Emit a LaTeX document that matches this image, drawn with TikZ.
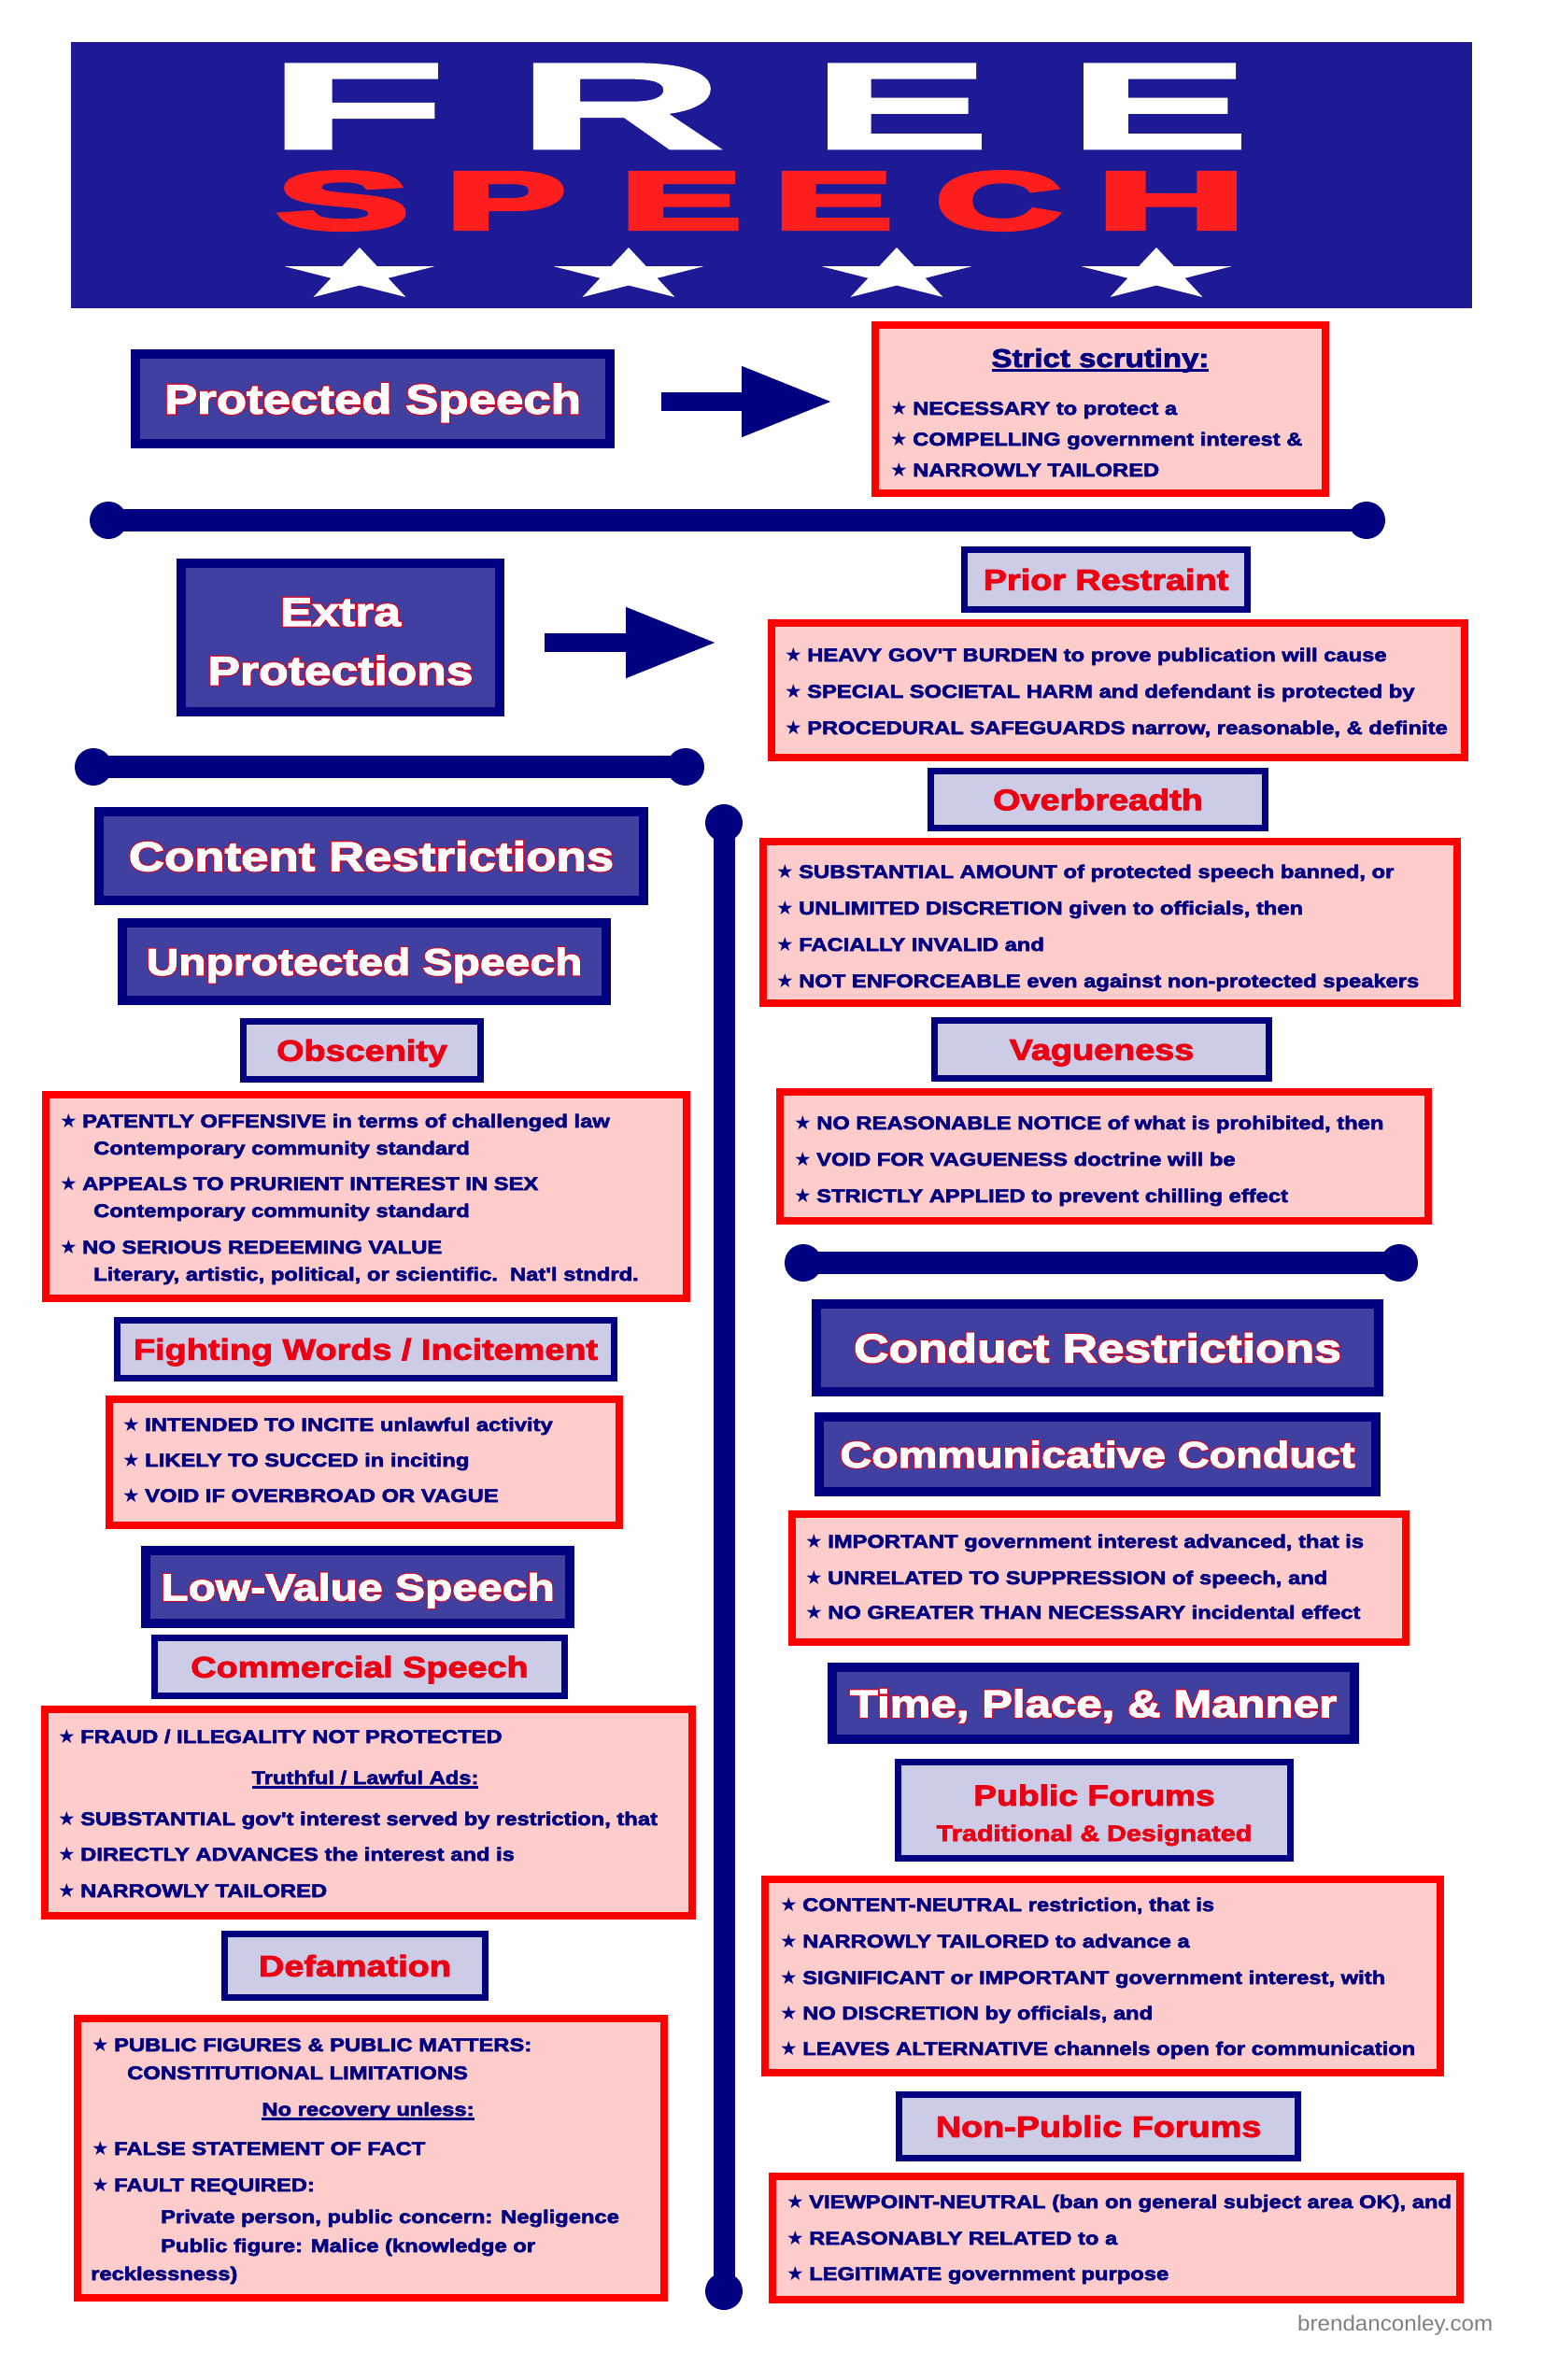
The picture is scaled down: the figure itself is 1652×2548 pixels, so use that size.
\documentclass[tikz,border=0pt]{standalone}
\usepackage{fontspec}
\usepackage{graphicx}
\usetikzlibrary{arrows.meta,calc}
\newfontfamily\fb{Liberation Sans Bold}[FakeStretch=1.2,FakeBold=3]
\newfontfamily\fbo{Liberation Sans Bold}[FakeStretch=1.2,FakeBold=8]
\newfontfamily\fh{Liberation Sans Bold}[FakeBold=2]
\newfontfamily\fhh{Liberation Sans Bold}[FakeBold=5]
\newfontfamily\fr{Liberation Sans}[FakeStretch=1.05]
\newfontfamily\symf{DejaVu Sans}[Scale=1.05]
\definecolor{navy}{RGB}{0,0,128}
\definecolor{midblue}{RGB}{64,64,160}
\definecolor{lav}{RGB}{204,204,230}
\definecolor{pinkf}{RGB}{255,204,204}
\definecolor{bred}{RGB}{255,0,0}
\definecolor{tred}{RGB}{235,0,20}
\definecolor{outred}{RGB}{220,0,30}
\definecolor{banner}{RGB}{30,26,150}
\definecolor{sred}{RGB}{255,30,30}
\definecolor{webgray}{RGB}{128,128,128}
\newcommand\st{\makebox[24pt][l]{\symf\symbol{"2605}}}
\newsavebox\ulbox
\newcommand\ulx[1]{\sbox\ulbox{#1}\rlap{\rule[-4.5pt]{\wd\ulbox}{2.2pt}}\usebox\ulbox}
\newcommand\ot[1]{\makebox[0pt][l]{\textcolor{outred}{\fbo #1}}#1}
\newcommand\tl[4]{\node[bodytxt] (#1) at (#2,#3) {#4};}
\newcommand\biglet[3]{\fontsize{#1}{#1}\selectfont\fh\scalebox{#2}[1]{#3}}
\newcommand\bigred[3]{\fontsize{#1}{#1}\selectfont\fhh\scalebox{#2}[1]{#3}}
\begin{document}
\begin{tikzpicture}[x=1pt,y=-1pt,
  darkbox/.style={draw=navy,line width=10pt,fill=midblue,text=white,inner sep=0pt,text depth=0pt},
  lavbox/.style={draw=navy,line width=7pt,fill=lav,text=tred,inner sep=0pt,text depth=0pt,
     font=\fontsize{31.5}{32}\selectfont\fb,text height=22.5pt},
  redbox/.style={draw=bred,line width=8pt,fill=pinkf,inner sep=0pt},
  bodytxt/.style={text=navy,inner sep=0pt,anchor=base west,font=\fontsize{19.8}{22}\selectfont\fb},
  wtitle/.style={text=white,inner sep=0pt,anchor=base},
  bigletter/.style={inner sep=0pt,anchor=base},
  bigarr/.style={draw=navy,line width=20pt,-{Triangle[length=98pt,width=70pt]}},
  bar/.style={draw=navy,line width=24pt},
  endcap/.style={fill=navy}]
\useasboundingbox (0,0) rectangle (1652,2548);
\fill[white] (0,0) rectangle (1652,2548);

% ---------- banner ----------
\node[fill=banner,inner sep=0pt,minimum width=1500pt,minimum height=285pt] (banner) at (826,187.5) {};
\node[bigletter,text=white] (lF) at (382,159) {\biglet{131.3}{2.37}{F}};
\node[bigletter,text=white] (lR) at (664,159) {\biglet{131.3}{2.33}{R}};
\node[bigletter,text=white] (lE1) at (964.5,159) {\biglet{131.3}{2.16}{E}};
\node[bigletter,text=white] (lE2) at (1240.5,159) {\biglet{131.3}{2.21}{E}};
\node[bigletter,text=sred] (lS) at (367,245) {\bigred{87}{2.43}{S}};
\node[bigletter,text=sred] (lP) at (541.5,245) {\bigred{87}{2.2}{P}};
\node[bigletter,text=sred] (lE3) at (729,245) {\bigred{87}{2.22}{E}};
\node[bigletter,text=sred] (lE4) at (892,245) {\bigred{87}{2.17}{E}};
\node[bigletter,text=sred] (lC) at (1069,245) {\bigred{87}{2.13}{C}};
\node[bigletter,text=sred] (lH) at (1254,245) {\bigred{87}{2.52}{H}};
\foreach \cx in {385,673,960,1238}{
  \fill[white,shift={(\cx,294.3)},xscale=2.87] (-90:29.3) -- (-54:11.2) -- (-18:29.3) -- (18:11.2) -- (54:29.3)
     -- (90:11.2) -- (126:29.3) -- (162:11.2) -- (198:29.3) -- (234:11.2) -- cycle;}

% ---------- protected speech ----------
\node[darkbox,minimum width=508pt,minimum height=96pt,font=\fontsize{44}{44}\selectfont\fb,text height=31.5pt] (ps) at (399,427) {\ot{Protected Speech}};
\node[redbox,minimum width=482pt,minimum height=180pt] (ss) at (1178,438) {};
\node[text=navy,inner sep=0pt,anchor=base,font=\fontsize{27.5}{28}\selectfont\fb] (sst) at (1178,393) {\ulx{Strict scrutiny:}};
\tl{ss1}{953}{444}{\st NECESSARY to protect a}
\tl{ss2}{953}{477}{\st COMPELLING government interest \&}
\tl{ss3}{953}{510}{\st NARROWLY TAILORED}
\coordinate (a1s) at ($(ps.east)+(50,3)$);
\coordinate (a1e) at ($(ss.west)+(-41,-8)$);
\draw[bigarr] (a1s) -- (a1e);

% ---------- bar 1 ----------
\coordinate (b1l) at (116,557);
\coordinate (b1r) at (1463,557);
\draw[bar] (b1l) -- (b1r);
\fill[endcap] (b1l) circle (20pt);
\fill[endcap] (b1r) circle (20pt);

% ---------- extra protections ----------
\node[darkbox,minimum width=341pt,minimum height=159pt] (ep) at (364.5,682.5) {};
\node[wtitle,font=\fontsize{43}{43}\selectfont\fb] (ep1) at (364.5,670) {\ot{Extra}};
\node[wtitle,font=\fontsize{43}{43}\selectfont\fb] (ep2) at (364.5,733) {\ot{Protections}};
\node[lavbox,minimum width=303pt,minimum height=64pt] (prt) at (1184,620.5) {Prior Restraint};
\node[redbox,minimum width=742pt,minimum height=144pt] (prc) at (1197,739) {};
\tl{pr1}{840}{708}{\st HEAVY GOV'T BURDEN to prove publication will cause}
\tl{pr2}{840}{747}{\st SPECIAL SOCIETAL HARM and defendant is protected by}
\tl{pr3}{840}{786}{\st PROCEDURAL SAFEGUARDS narrow, reasonable, \& definite}
\coordinate (a2s) at ($(ep.east)+(43,5.5)$);
\coordinate (a2e) at ($(prc.west)+(-54,-51)$);
\draw[bigarr] (a2s) -- (a2e);

% ---------- bar 2 and vertical bar ----------
\coordinate (b2l) at (100,821);
\coordinate (b2r) at (734,821);
\draw[bar] (b2l) -- (b2r);
\fill[endcap] (b2l) circle (20pt);
\fill[endcap] (b2r) circle (20pt);
\coordinate (vt) at (775,881);
\coordinate (vb) at (775,2453);
\draw[bar,line width=23pt] (vt) -- (vb);
\fill[endcap] (vt) circle (20pt);
\fill[endcap] (vb) circle (20pt);

% ---------- right column: overbreadth, vagueness ----------
\node[lavbox,minimum width=358pt,minimum height=61pt] (obt) at (1175.5,856) {Overbreadth};
\node[redbox,minimum width=743pt,minimum height=173pt] (obc) at (1188.5,987.5) {};
\tl{ob1}{831}{940}{\st SUBSTANTIAL AMOUNT of protected speech banned, or}
\tl{ob2}{831}{979}{\st UNLIMITED DISCRETION given to officials, then}
\tl{ob3}{831}{1018}{\st FACIALLY INVALID and}
\tl{ob4}{831}{1057}{\st NOT ENFORCEABLE even against non-protected speakers}
\node[lavbox,minimum width=358pt,minimum height=62pt] (vgt) at (1179.5,1123.5) {Vagueness};
\node[redbox,minimum width=694pt,minimum height=138pt] (vgc) at (1182,1238) {};
\tl{vg1}{850}{1209}{\st NO REASONABLE NOTICE of what is prohibited, then}
\tl{vg2}{850}{1248}{\st VOID FOR VAGUENESS doctrine will be}
\tl{vg3}{850}{1287}{\st STRICTLY APPLIED to prevent chilling effect}

% ---------- left column: content restrictions ----------
\node[darkbox,minimum width=583pt,minimum height=95pt,font=\fontsize{44}{44}\selectfont\fb,text height=31.5pt] (cr) at (397.5,916.5) {\ot{Content Restrictions}};
\node[darkbox,minimum width=518pt,minimum height=83pt,font=\fontsize{40}{40}\selectfont\fb,text height=28.6pt] (us) at (390,1029.5) {\ot{Unprotected Speech}};
\node[lavbox,minimum width=254pt,minimum height=62pt] (obs) at (387.5,1124.5) {Obscenity};
\node[redbox,minimum width=686pt,minimum height=218pt] (osc) at (392,1281) {};
\tl{os1}{64}{1207}{\st PATENTLY OFFENSIVE in terms of challenged law}
\tl{os2}{100}{1236}{Contemporary community standard}
\tl{os3}{64}{1274}{\st APPEALS TO PRURIENT INTEREST IN SEX}
\tl{os4}{100}{1303}{Contemporary community standard}
\tl{os5}{64}{1342}{\st NO SERIOUS REDEEMING VALUE}
\tl{os6}{100}{1371}{Literary, artistic, political, or scientific.\ \ Nat'l stndrd.}
\node[lavbox,minimum width=532pt,minimum height=62pt] (fwt) at (391.5,1444.5) {Fighting Words / Incitement};
\node[redbox,minimum width=546pt,minimum height=135pt] (fwc) at (390,1565.5) {};
\tl{fw1}{131}{1532}{\st INTENDED TO INCITE unlawful activity}
\tl{fw2}{131}{1570}{\st LIKELY TO SUCCED in inciting}
\tl{fw3}{131}{1608}{\st VOID IF OVERBROAD OR VAGUE}
\node[darkbox,minimum width=454pt,minimum height=78pt,font=\fontsize{40}{40}\selectfont\fb,text height=28.6pt] (lv) at (383,1699) {\ot{Low-Value Speech}};
\node[lavbox,minimum width=439pt,minimum height=62pt] (cst) at (385,1784.5) {Commercial Speech};
\node[redbox,minimum width=693pt,minimum height=221pt] (csc) at (394.5,1940.5) {};
\tl{cs1}{62}{1866}{\st FRAUD / ILLEGALITY NOT PROTECTED}
\node[text=navy,inner sep=0pt,anchor=base,font=\fontsize{19.8}{22}\selectfont\fb] (cs2) at (391,1910) {\ulx{Truthful / Lawful Ads:}};
\tl{cs3}{62}{1954}{\st SUBSTANTIAL gov't interest served by restriction, that}
\tl{cs4}{62}{1992}{\st DIRECTLY ADVANCES the interest and is}
\tl{cs5}{62}{2031}{\st NARROWLY TAILORED}
\node[lavbox,minimum width=279pt,minimum height=68pt] (dft) at (380,2104.5) {Defamation};
\node[redbox,minimum width=628pt,minimum height=299pt] (dfc) at (397,2310.5) {};
\tl{df1}{98}{2196}{\st PUBLIC FIGURES \& PUBLIC MATTERS:}
\tl{df2}{136}{2226}{CONSTITUTIONAL LIMITATIONS}
\node[text=navy,inner sep=0pt,anchor=base,font=\fontsize{19.8}{22}\selectfont\fb] (df3) at (394,2265) {\ulx{No recovery unless:}};
\tl{df4}{98}{2307}{\st FALSE STATEMENT OF FACT}
\tl{df5}{98}{2346}{\st FAULT REQUIRED:}
\tl{df6}{172}{2380}{Private person, public concern: Negligence}
\tl{df7}{172}{2411}{Public figure: Malice (knowledge or}
\tl{df8}{97}{2441}{recklessness)}

% ---------- right column: conduct restrictions ----------
\coordinate (b3l) at (860,1352);
\coordinate (b3r) at (1498,1352);
\draw[bar] (b3l) -- (b3r);
\fill[endcap] (b3l) circle (20pt);
\fill[endcap] (b3r) circle (20pt);
\node[darkbox,minimum width=602pt,minimum height=94pt,font=\fontsize{43}{43}\selectfont\fb,text height=30.8pt] (cd) at (1175,1443) {\ot{Conduct Restrictions}};
\node[darkbox,minimum width=596pt,minimum height=80pt,font=\fontsize{39}{39}\selectfont\fb,text height=27.9pt] (cc) at (1175,1557) {\ot{Communicative Conduct}};
\node[redbox,minimum width=657pt,minimum height=137pt] (ccc) at (1176.5,1689.5) {};
\tl{cc1}{862}{1657}{\st IMPORTANT government interest advanced, that is}
\tl{cc2}{862}{1696}{\st UNRELATED TO SUPPRESSION of speech, and}
\tl{cc3}{862}{1733}{\st NO GREATER THAN NECESSARY incidental effect}
\node[darkbox,minimum width=559pt,minimum height=77pt,font=\fontsize{41}{41}\selectfont\fb,text height=29.4pt] (tpm) at (1170.5,1823.5) {\ot{Time, Place, \& Manner}};
\node[lavbox,minimum width=420pt,minimum height=103pt] (pft) at (1171.5,1938) {};
\node[text=tred,inner sep=0pt,anchor=base,font=\fontsize{31}{31}\selectfont\fb] (pf1) at (1171.5,1933) {Public Forums};
\node[text=tred,inner sep=0pt,anchor=base,font=\fontsize{24}{24}\selectfont\fb] (pf2) at (1171.5,1971) {Traditional \& Designated};
\node[redbox,minimum width=723pt,minimum height=207pt] (pfc) at (1180.5,2115.5) {};
\tl{pc1}{835}{2046}{\st CONTENT-NEUTRAL restriction, that is}
\tl{pc2}{835}{2085}{\st NARROWLY TAILORED to advance a}
\tl{pc3}{835}{2124}{\st SIGNIFICANT or IMPORTANT government interest, with}
\tl{pc4}{835}{2162}{\st NO DISCRETION by officials, and}
\tl{pc5}{835}{2200}{\st LEAVES ALTERNATIVE channels open for communication}
\node[lavbox,minimum width=427pt,minimum height=68pt] (npt) at (1176,2276.5) {Non-Public Forums};
\node[redbox,minimum width=736pt,minimum height=132pt] (npc) at (1195,2396) {};
\tl{np1}{842}{2364}{\st VIEWPOINT-NEUTRAL (ban on general subject area OK), and}
\tl{np2}{842}{2403}{\st REASONABLY RELATED to a}
\tl{np3}{842}{2441}{\st LEGITIMATE government purpose}

\node[text=webgray,inner sep=0pt,anchor=base west,font=\fontsize{23}{23}\selectfont\fr] (web) at (1389,2495) {brendanconley.com};
\end{tikzpicture}
\end{document}
